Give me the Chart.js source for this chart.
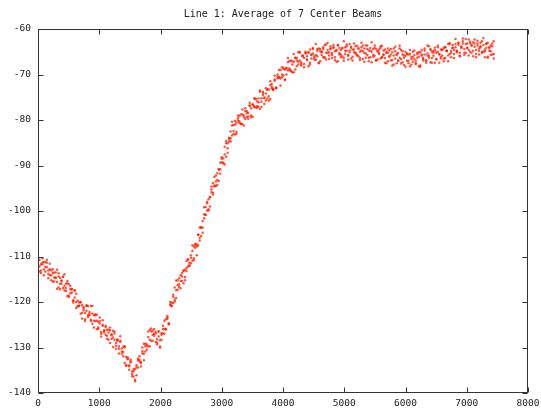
<!DOCTYPE html>
<html>
<head>
<meta charset="utf-8">
<script src="https://cdn.jsdelivr.net/npm/chart.js@4.4.1/dist/chart.umd.min.js"></script>
<style>
  html, body { margin: 0; padding: 0; background: #fff; }
  #beams { display: block; }
</style>
</head>
<body>
<canvas id="beams" width="541" height="409"></canvas>
<script>
const chartTitle = 'Line 1: Average of 7 Center Beams';

const xTicks = [0, 1000, 2000, 3000, 4000, 5000, 6000, 7000, 8000];
const yTicks = [-140, -130, -120, -110, -100, -90, -80, -70, -60];

// ping number along the line
const pings = [
  0,24,48,72,96,120,144,168,192,216,240,264,288,312,336,360,384,408,432,456,
  480,504,528,552,576,600,624,648,672,696,720,744,768,792,816,840,864,888,912,936,
  960,984,1008,1032,1056,1080,1104,1128,1152,1176,1200,1224,1248,1272,1296,1320,1344,1368,1392,1416,
  1440,1464,1488,1512,1536,1560,1584,1608,1632,1656,1680,1704,1728,1752,1776,1800,1824,1848,1872,1896,
  1920,1944,1968,1992,2016,2040,2064,2088,2112,2136,2160,2184,2208,2232,2256,2280,2304,2328,2352,2376,
  2400,2424,2448,2472,2496,2520,2544,2568,2592,2616,2640,2664,2688,2712,2736,2760,2784,2808,2832,2856,
  2880,2904,2928,2952,2976,3000,3024,3048,3072,3096,3120,3144,3168,3192,3216,3240,3264,3288,3312,3336,
  3360,3384,3408,3432,3456,3480,3504,3528,3552,3576,3600,3624,3648,3672,3696,3720,3744,3768,3792,3816,
  3840,3864,3888,3912,3936,3960,3984,4008,4032,4056,4080,4104,4128,4152,4176,4200,4224,4248,4272,4296,
  4320,4344,4368,4392,4416,4440,4464,4488,4512,4536,4560,4584,4608,4632,4656,4680,4704,4728,4752,4776,
  4800,4824,4848,4872,4896,4920,4944,4968,4992,5016,5040,5064,5088,5112,5136,5160,5184,5208,5232,5256,
  5280,5304,5328,5352,5376,5400,5424,5448,5472,5496,5520,5544,5568,5592,5616,5640,5664,5688,5712,5736,
  5760,5784,5808,5832,5856,5880,5904,5928,5952,5976,6000,6024,6048,6072,6096,6120,6144,6168,6192,6216,
  6240,6264,6288,6312,6336,6360,6384,6408,6432,6456,6480,6504,6528,6552,6576,6600,6624,6648,6672,6696,
  6720,6744,6768,6792,6816,6840,6864,6888,6912,6936,6960,6984,7008,7032,7056,7080,7104,7128,7152,7176,
  7200,7224,7248,7272,7296,7320,7344,7368,7392,7416,7440
];

// three readings per ping
const beamA = [
  -110.9,-113.3,-111.7,-110.4,-112.8,-112.3,-111.4,-114.8,-112.8,-114.1,-112.8,-115.5,-114.7,-112.9,-116.8,-114.7,-116.0,-114.4,-117.4,-116.0,
  -118.7,-116.1,-118.1,-117.2,-120.1,-119.0,-118.2,-120.9,-120.8,-120.1,-123.6,-121.4,-122.4,-120.9,-123.3,-122.6,-120.9,-124.8,-122.9,-124.2,
  -122.8,-125.9,-124.7,-127.6,-125.0,-126.7,-125.5,-128.1,-126.7,-125.6,-128.1,-127.8,-126.9,-130.3,-128.4,-129.7,-128.5,-131.4,-131.0,-129.7,
  -134.0,-132.4,-134.1,-133.0,-136.3,-135.2,-137.4,-133.9,-134.4,-131.9,-133.4,-131.3,-129.2,-130.9,-129.6,-127.7,-129.7,-126.5,-127.2,-126.0,
  -128.8,-128.2,-126.4,-129.8,-126.8,-126.9,-124.1,-126.0,-123.4,-124.8,-120.7,-120.9,-118.4,-119.9,-117.4,-115.2,-116.7,-115.4,-113.6,-115.9,
  -112.9,-113.2,-110.7,-112.1,-110.3,-107.5,-110.4,-107.5,-107.8,-105.2,-106.5,-103.6,-104.8,-100.7,-100.9,-98.3,-99.6,-97.0,-94.6,-96.0,
  -94.4,-92.2,-94.3,-90.9,-90.8,-88.2,-89.5,-87.6,-84.6,-87.2,-83.9,-84.0,-81.2,-83.1,-81.0,-83.0,-79.6,-80.6,-78.8,-80.9,
  -79.0,-77.4,-79.4,-78.4,-76.8,-79.4,-76.6,-77.2,-75.3,-77.3,-76.1,-73.8,-77.1,-74.5,-75.1,-73.0,-75.3,-73.3,-75.4,-72.1,
  -73.1,-71.1,-72.9,-70.8,-69.0,-70.9,-70.0,-68.5,-71.2,-68.5,-69.1,-67.1,-69.1,-67.8,-65.5,-68.9,-66.4,-67.2,-65.2,-67.7,
  -66.0,-68.4,-65.4,-66.7,-65.1,-67.4,-65.7,-64.2,-66.4,-65.7,-64.4,-67.4,-64.9,-65.7,-64.0,-66.2,-65.2,-63.1,-66.6,-64.3,
  -65.3,-63.5,-66.2,-64.6,-67.1,-64.2,-65.6,-64.1,-66.4,-64.8,-63.4,-65.7,-65.1,-63.9,-66.9,-64.5,-65.4,-63.7,-66.0,-65.0,
  -63.0,-66.6,-64.3,-65.4,-63.6,-66.3,-64.8,-67.3,-64.4,-65.9,-64.4,-66.7,-65.2,-63.8,-66.2,-65.6,-64.5,-67.5,-65.2,-66.1,
  -64.4,-66.8,-65.8,-63.9,-67.5,-65.3,-66.3,-64.6,-67.3,-65.8,-68.3,-65.5,-67.0,-65.5,-67.8,-66.2,-64.7,-67.0,-66.3,-65.1,
  -68.0,-65.6,-66.4,-64.7,-66.9,-65.9,-63.8,-67.3,-65.0,-65.9,-64.1,-66.7,-65.0,-67.4,-64.5,-65.8,-64.2,-66.4,-64.8,-63.3,
  -65.5,-64.8,-63.5,-66.4,-64.0,-64.8,-63.0,-65.2,-64.2,-62.1,-65.7,-63.3,-64.2,-62.3,-65.0,-63.5,-66.0,-63.2,-64.6,-63.2,
  -65.6,-64.0,-62.7,-65.0,-64.5,-63.3,-66.3,-64.0,-64.9,-63.2,-65.5
];
const beamB = [
  -112.3,-110.7,-113.6,-111.7,-111.2,-113.3,-110.7,-113.1,-114.1,-113.1,-115.5,-113.5,-114.6,-117.1,-113.7,-116.0,-115.3,-116.9,-113.9,-116.9,
  -115.4,-118.6,-117.2,-117.2,-119.8,-117.4,-120.0,-121.0,-120.1,-122.6,-120.7,-121.8,-124.2,-120.7,-122.9,-122.2,-123.9,-120.9,-124.1,-122.7,
  -126.0,-124.4,-124.2,-126.6,-124.0,-126.3,-127.2,-126.1,-128.3,-126.2,-127.3,-129.9,-126.5,-129.0,-128.5,-130.3,-127.5,-130.9,-129.8,-133.4,
  -132.1,-132.2,-134.9,-132.7,-135.3,-136.4,-134.7,-136.1,-132.8,-132.7,-134.2,-130.0,-131.4,-129.8,-130.5,-126.5,-128.3,-125.8,-128.5,-127.0,
  -126.9,-129.3,-126.6,-128.4,-128.3,-126.0,-127.0,-123.8,-123.7,-124.9,-120.0,-120.9,-118.9,-119.5,-115.3,-117.3,-114.8,-117.0,-114.4,-113.1,
  -114.5,-111.0,-112.2,-111.9,-109.7,-110.9,-107.8,-108.1,-109.7,-105.2,-105.9,-103.6,-103.7,-99.2,-100.8,-98.0,-99.9,-96.9,-95.3,-96.4,
  -92.5,-93.5,-93.2,-90.8,-91.8,-88.5,-88.4,-89.8,-85.1,-86.2,-84.2,-84.7,-80.4,-82.4,-80.2,-82.6,-80.1,-79.1,-80.8,-77.7,
  -79.4,-79.8,-78.1,-79.7,-76.9,-77.4,-79.3,-75.3,-77.2,-75.9,-77.1,-73.5,-76.0,-74.0,-76.5,-74.2,-73.2,-74.8,-71.5,-73.1,
  -73.3,-71.4,-72.9,-70.0,-70.5,-72.4,-68.4,-70.2,-68.9,-70.0,-66.4,-68.9,-66.9,-69.5,-67.2,-66.4,-68.2,-65.1,-66.9,-67.3,
  -65.8,-67.7,-65.2,-66.0,-68.2,-64.5,-66.5,-65.4,-66.7,-63.3,-66.0,-64.3,-67.1,-65.0,-64.4,-66.3,-63.4,-65.3,-65.8,-64.4,
  -66.4,-64.0,-64.9,-67.2,-63.5,-65.6,-64.6,-66.0,-62.7,-65.5,-63.8,-66.7,-64.7,-64.1,-66.1,-63.2,-65.2,-65.8,-64.4,-66.4,
  -64.0,-64.9,-67.2,-63.6,-65.7,-64.7,-66.2,-62.9,-65.7,-64.1,-67.0,-65.0,-64.5,-66.5,-63.7,-65.7,-66.4,-65.0,-67.1,-64.7,
  -65.6,-68.0,-64.3,-66.5,-65.5,-67.0,-63.7,-66.6,-64.9,-67.9,-65.9,-65.4,-67.5,-64.6,-66.6,-67.2,-65.7,-67.7,-65.2,-66.1,
  -68.3,-64.6,-66.6,-65.6,-66.9,-63.6,-66.3,-64.5,-67.4,-65.3,-64.7,-66.6,-63.6,-65.5,-66.1,-64.6,-66.5,-64.0,-64.9,-67.1,
  -63.3,-65.3,-64.2,-65.5,-62.2,-64.9,-63.1,-65.9,-63.9,-63.2,-65.2,-62.2,-64.1,-64.6,-63.2,-65.3,-62.9,-63.9,-66.2,-62.6,
  -64.8,-63.8,-65.3,-62.0,-64.9,-63.2,-66.1,-64.2,-63.6,-65.6,-62.7
];
const beamC = [
  -110.4,-112.2,-113.1,-111.3,-114.1,-111.2,-112.3,-113.8,-111.6,-115.2,-113.6,-114.6,-113.5,-115.6,-114.4,-117.2,-115.4,-114.5,-116.5,-117.6,
  -115.9,-118.9,-116.5,-117.9,-119.6,-117.5,-121.3,-119.7,-120.8,-120.0,-122.4,-121.1,-123.8,-121.9,-120.9,-122.9,-124.1,-122.5,-125.6,-122.9,
  -124.1,-125.6,-123.4,-127.0,-125.3,-126.2,-125.2,-127.4,-126.1,-129.0,-127.1,-126.3,-128.3,-129.6,-128.2,-131.3,-128.8,-130.2,-131.9,-130.0,
  -133.9,-132.6,-133.9,-133.3,-135.8,-134.8,-137.1,-134.4,-132.4,-133.1,-133.2,-130.8,-132.8,-129.2,-129.3,-129.7,-126.1,-128.5,-126.3,-127.4,
  -126.6,-128.9,-127.6,-130.0,-127.2,-125.2,-125.9,-126.0,-123.1,-124.7,-120.5,-120.1,-120.2,-116.8,-119.1,-116.3,-116.1,-114.1,-115.4,-113.2,
  -115.2,-112.5,-110.6,-111.4,-111.5,-108.8,-110.8,-107.2,-107.3,-107.6,-103.6,-105.5,-102.2,-101.6,-99.1,-99.9,-97.4,-99.0,-95.9,-93.9,
  -94.6,-94.5,-91.7,-93.4,-89.4,-89.3,-89.4,-85.9,-88.1,-85.1,-84.7,-82.5,-83.4,-81.1,-83.2,-80.6,-79.0,-80.3,-80.9,-78.8,
  -81.2,-78.0,-78.5,-79.2,-76.2,-79.0,-76.6,-76.9,-75.4,-77.0,-75.3,-77.6,-75.2,-73.8,-75.1,-75.7,-73.4,-75.7,-72.3,-72.7,
  -73.4,-70.3,-73.0,-70.5,-70.7,-69.0,-70.6,-68.8,-71.1,-68.7,-67.3,-68.7,-69.3,-67.1,-69.5,-66.3,-66.9,-67.8,-65.0,-68.0,
  -65.9,-66.4,-65.0,-66.8,-65.2,-67.8,-65.6,-64.4,-66.0,-66.8,-64.8,-67.5,-64.4,-65.1,-66.2,-63.5,-66.7,-64.6,-65.1,-63.8,
  -65.7,-64.2,-66.8,-64.7,-63.6,-65.3,-66.2,-64.3,-67.0,-64.0,-64.8,-65.9,-63.3,-66.5,-64.5,-65.1,-63.8,-65.7,-64.2,-66.8,
  -64.7,-63.6,-65.3,-66.3,-64.4,-67.1,-64.2,-65.0,-66.1,-63.6,-66.8,-64.8,-65.5,-64.2,-66.2,-64.7,-67.4,-65.3,-64.3,-66.0,
  -66.9,-65.1,-67.8,-64.9,-65.7,-66.9,-64.3,-67.6,-65.6,-66.3,-65.0,-67.0,-65.6,-68.2,-66.1,-65.0,-66.6,-67.5,-65.5,-68.2,
  -65.1,-65.9,-66.9,-64.3,-67.4,-65.4,-65.9,-64.5,-66.4,-64.8,-67.4,-65.2,-64.0,-65.6,-66.5,-64.5,-67.1,-64.0,-64.8,-65.8,
  -63.1,-66.2,-64.1,-64.6,-63.3,-65.1,-63.5,-66.0,-63.9,-62.7,-64.4,-65.2,-63.2,-65.8,-62.8,-63.7,-64.8,-62.3,-65.5,-63.6,
  -64.3,-63.0,-65.0,-63.5,-66.2,-64.1,-63.0,-64.8,-65.7,-63.8,-66.5
];

const monoFont = '"DejaVu Sans Mono", "Liberation Mono", monospace';
const dotColor = 'rgba(255, 30, 0, 0.75)';

function toPoints(ys) {
  return pings.map((p, i) => ({ x: p, y: ys[i] }));
}

function dots(label, ys) {
  return { label: label, data: toPoints(ys), backgroundColor: dotColor, borderWidth: 0, pointRadius: 1.25 };
}

// box round the plot, ticks pointing inwards on all four sides, and the title
const framePlugin = {
  id: 'frame',
  afterDraw(chart) {
    const { ctx, chartArea: a, scales } = chart;
    const l = Math.round(a.left) + 0.5, r = Math.round(a.right) - 0.5;
    const t = Math.round(a.top) + 0.5, b = Math.round(a.bottom) - 0.5;
    ctx.save();
    ctx.strokeStyle = '#333';
    ctx.lineWidth = 1;
    ctx.strokeRect(l, t, r - l, b - t);
    ctx.beginPath();
    xTicks.forEach(v => {
      const px = Math.round(scales.x.getPixelForValue(v)) + 0.5;
      ctx.moveTo(px, b); ctx.lineTo(px, b - 5);
      ctx.moveTo(px, t); ctx.lineTo(px, t + 5);
    });
    yTicks.forEach(v => {
      const py = Math.round(scales.y.getPixelForValue(v)) + 0.5;
      ctx.moveTo(l, py); ctx.lineTo(l + 5, py);
      ctx.moveTo(r, py); ctx.lineTo(r - 5, py);
    });
    ctx.stroke();

    ctx.fillStyle = '#222';
    ctx.font = '10px ' + monoFont;
    ctx.textAlign = 'center';
    ctx.textBaseline = 'middle';
    ctx.fillText(chartTitle, (a.left + a.right) / 2, 14);
    ctx.restore();
  }
};

new Chart(document.getElementById('beams'), {
  type: 'scatter',
  data: {
    datasets: [dots('beam A', beamA), dots('beam B', beamB), dots('beam C', beamC)]
  },
  options: {
    responsive: false,
    animation: false,
    layout: { padding: { top: 29, right: 13, bottom: 0, left: 0 } },
    plugins: {
      legend: { display: false },
      title: { display: false },
      tooltip: { enabled: false }
    },
    scales: {
      x: {
        type: 'linear',
        min: 0,
        max: 8000,
        afterBuildTicks: s => { s.ticks = xTicks.map(v => ({ value: v })); },
        afterFit: s => { s.height = 16; s.paddingLeft = 0; s.paddingRight = 0; },
        grid: { display: false, drawTicks: false },
        border: { display: false },
        ticks: {
          padding: 5, color: '#222', maxRotation: 0,
          font: { family: monoFont, size: 9.5 },
          callback: v => String(v)
        }
      },
      y: {
        min: -140,
        max: -60,
        afterBuildTicks: s => { s.ticks = yTicks.map(v => ({ value: v })); },
        afterFit: s => { s.width = 38; s.paddingTop = 0; s.paddingBottom = 0; },
        grid: { display: false, drawTicks: false },
        border: { display: false },
        ticks: {
          padding: 7, color: '#222',
          font: { family: monoFont, size: 9.5 },
          callback: v => String(v)
        }
      }
    }
  },
  plugins: [framePlugin]
});
</script>
</body>
</html>
